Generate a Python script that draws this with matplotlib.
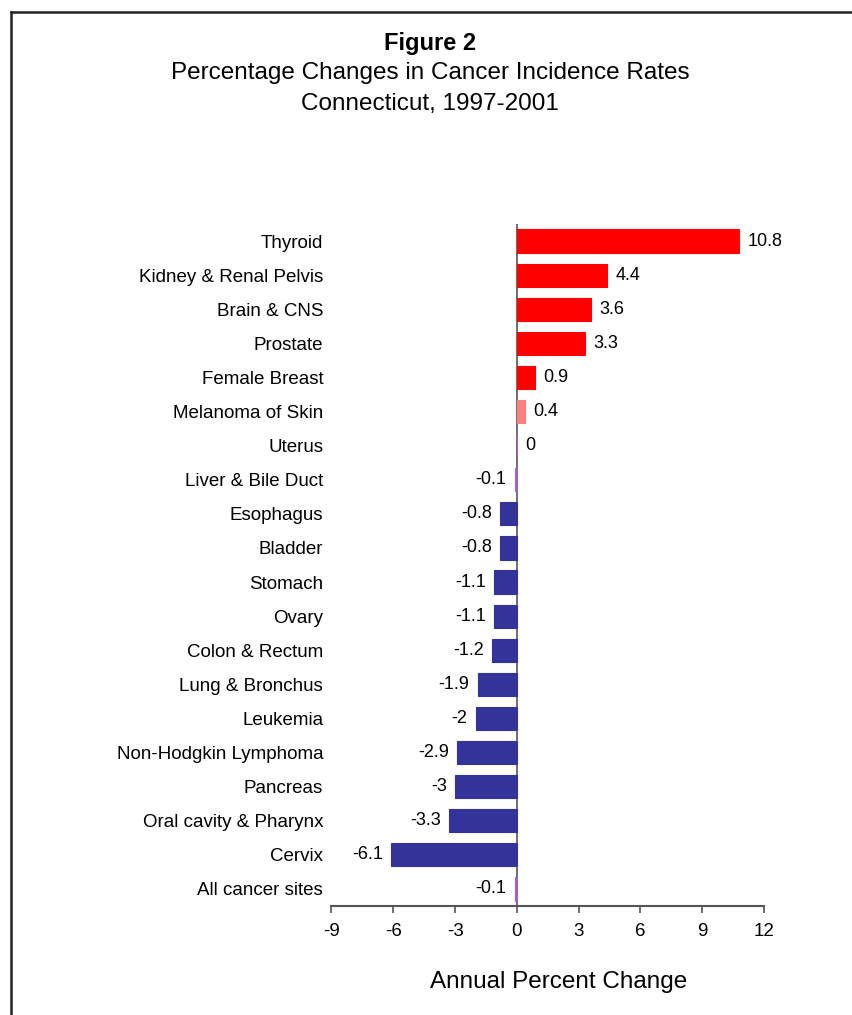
import matplotlib
matplotlib.use("Agg")
from matplotlib import pyplot as plt
from matplotlib.lines import Line2D

plt.rcParams['font.family'] = ['Liberation Sans', 'DejaVu Sans']

sites = ["Thyroid", "Kidney & Renal Pelvis", "Brain & CNS", "Prostate", "Female Breast",
         "Melanoma of Skin", "Uterus", "Liver & Bile Duct", "Esophagus", "Bladder",
         "Stomach", "Ovary", "Colon & Rectum", "Lung & Bronchus", "Leukemia",
         "Non-Hodgkin Lymphoma", "Pancreas", "Oral cavity & Pharynx", "Cervix", "All cancer sites"]
apc = [10.8, 4.4, 3.6, 3.3, 0.9, 0.4, 0, -0.1, -0.8, -0.8,
       -1.1, -1.1, -1.2, -1.9, -2, -2.9, -3, -3.3, -6.1, -0.1]
labels = ["10.8", "4.4", "3.6", "3.3", "0.9", "0.4", "0", "-0.1", "-0.8", "-0.8",
          "-1.1", "-1.1", "-1.2", "-1.9", "-2", "-2.9", "-3", "-3.3", "-6.1", "-0.1"]
xticks = [-9, -6, -3, 0, 3, 6, 9, 12]


def bar_color(v):
    if v >= 0.5:
        return "#FF0000"
    if v > 0:
        return "#FF8080"
    if v > -0.5:
        return "#9966CC"
    return "#333399"


fig = plt.figure(figsize=(8.53, 10.15), dpi=100)
ax = fig.add_axes([0.3886, 0.1074, 0.5071, 0.6719])

ypos = list(range(len(sites)))
cols = [bar_color(v) for v in apc]
ax.barh(ypos, apc, height=0.68, color=cols, edgecolor=cols, linewidth=0.8, zorder=3)
ax.set_ylim(len(sites) - 0.5, -0.5)
ax.set_xlim(-9, 12)
ax.set_xticks(xticks)
ax.set_xticklabels([str(t) for t in xticks], fontsize=13.5)
ax.set_yticks(ypos)
ax.set_yticklabels(sites, fontsize=13.5)
ax.tick_params(axis='y', length=0, pad=6)
ax.tick_params(axis='x', length=5, width=1.2, color="#555555", pad=7)

for s in ['top', 'right', 'left']:
    ax.spines[s].set_visible(False)
ax.spines['bottom'].set_color("#555555")
ax.spines['bottom'].set_linewidth(1.5)
ax.axvline(0, color="#555555", lw=1.2, zorder=2)

for y, v, lab in zip(ypos, apc, labels):
    if v >= 0:
        ax.annotate(lab, (v, y), xytext=(6, 0), textcoords='offset points',
                    ha='left', va='center', fontsize=13)
    else:
        ax.annotate(lab, (v, y), xytext=(-6, 0), textcoords='offset points',
                    ha='right', va='center', fontsize=13)

ax.set_xlabel("Annual Percent Change", fontsize=17.5)
ax.xaxis.set_label_coords(0.526, -0.095)

fig.text(0.504, 0.957, "Figure 2", ha='center', va='center', fontsize=17, fontweight='bold')
fig.text(0.504, 0.928, "Percentage Changes in Cancer Incidence Rates", ha='center', va='center', fontsize=17.5)
fig.text(0.504, 0.898, "Connecticut, 1997-2001", ha='center', va='center', fontsize=17.5)

# frame around the figure, running off the right and bottom edges
fig.add_artist(Line2D([11 / 853, 1.0], [1 - 12 / 1015, 1 - 12 / 1015], color="#222222", lw=1.8))
fig.add_artist(Line2D([11 / 853, 11 / 853], [0.0, 1 - 12 / 1015], color="#222222", lw=1.8))

fig.savefig("out.png", dpi=100)
